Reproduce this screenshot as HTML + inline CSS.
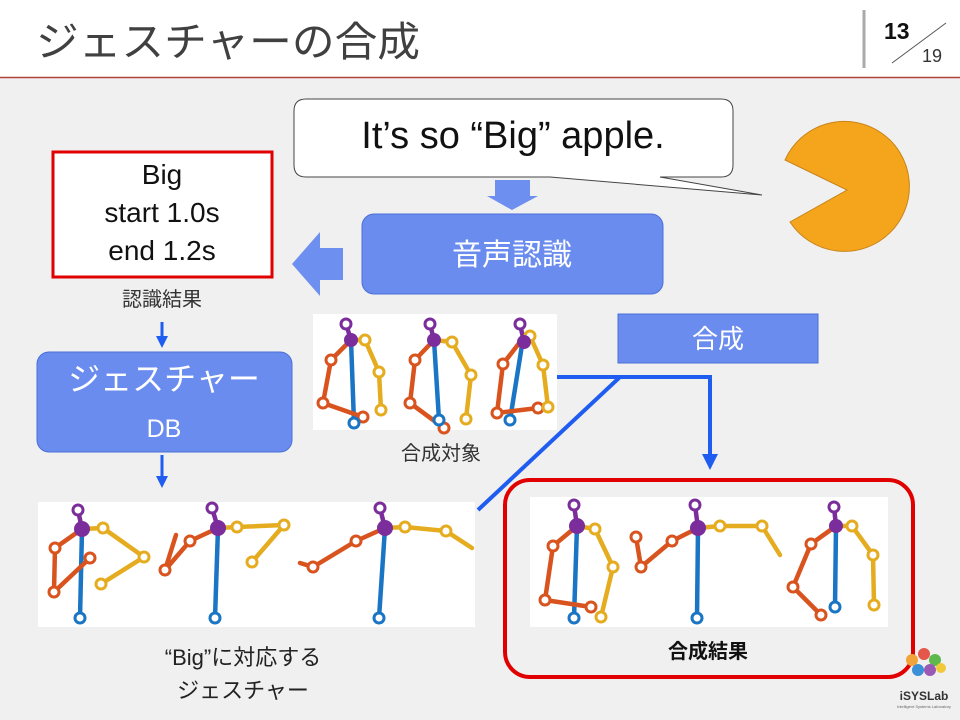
<!DOCTYPE html>
<html><head><meta charset="utf-8"><style>
html,body{margin:0;padding:0;width:960px;height:720px;overflow:hidden;background:#f0f0f0}
svg{display:block}
text{font-family:"Liberation Sans","Noto Sans CJK JP",sans-serif}
</style></head><body>
<svg width="960" height="720" viewBox="0 0 960 720" xmlns="http://www.w3.org/2000/svg">
<defs>
<marker id="ah" markerWidth="4" markerHeight="4" refX="2" refY="2" orient="auto" markerUnits="strokeWidth"><path d="M0,0 L4,2 L0,4 Z" fill="#1f5cf0"/></marker>
</defs>
<rect x="0" y="0" width="960" height="77" fill="#ffffff"/>
<line x1="0" y1="77.5" x2="960" y2="77.5" stroke="#b0433a" stroke-width="1.5"/>
<text x="36" y="56" font-size="41" fill="#404040" textLength="384" lengthAdjust="spacingAndGlyphs">ジェスチャーの合成</text>
<line x1="864" y1="10" x2="864" y2="68" stroke="#aaa" stroke-width="3"/>
<text x="884" y="39" font-size="23" font-weight="bold" fill="#111">13</text>
<line x1="892" y1="63" x2="946" y2="23" stroke="#555" stroke-width="1"/>
<text x="922" y="62" font-size="18" fill="#333" font-family="Liberation Serif,serif">19</text>

<path d="M306,99 H721 Q733,99 733,111 V165 Q733,177 721,177 H660 L762,195 L550,177 H306 Q294,177 294,165 V111 Q294,99 306,99 Z" fill="#fff" stroke="#444" stroke-width="1"/>
<text x="513" y="148" font-size="38" fill="#111" text-anchor="middle">It’s so “Big” apple.</text>

<path d="M847,190 L785,160 A65,65 0 1 1 790,222 Z" fill="#f5a51c" stroke="#c8841a" stroke-width="1"/>

<path d="M495,180 H530 V196 H538 L512,210 L487,196 H495 Z" fill="#6d8ff0"/>
<rect x="362" y="214" width="301" height="80" rx="12" fill="#6b8cef" stroke="#4a6fd8"/>
<text x="512" y="265" font-size="30" fill="#fff" text-anchor="middle">音声認識</text>
<path d="M343,248 V280 H320 V296 L292,264 L320,232 V248 Z" fill="#6d8ff0"/>

<rect x="53" y="152" width="219" height="125" fill="#fff" stroke="#e00000" stroke-width="3"/>
<text x="162" y="184" font-size="28" fill="#111" text-anchor="middle">Big</text>
<text x="162" y="222" font-size="28" fill="#111" text-anchor="middle">start 1.0s</text>
<text x="162" y="260" font-size="28" fill="#111" text-anchor="middle">end 1.2s</text>
<text x="162" y="306" font-size="20" fill="#333" text-anchor="middle">認識結果</text>
<line x1="162" y1="322" x2="162" y2="342" stroke="#1f5cf0" stroke-width="3" marker-end="url(#ah)"/>
<rect x="37" y="352" width="255" height="100" rx="12" fill="#6b8cef" stroke="#4a6fd8"/>
<text x="164" y="390" font-size="32" fill="#fff" text-anchor="middle">ジェスチャー</text>
<text x="164" y="437" font-size="25" fill="#fff" text-anchor="middle">DB</text>
<line x1="162" y1="455" x2="162" y2="482" stroke="#1f5cf0" stroke-width="3" marker-end="url(#ah)"/>

<rect x="313" y="314" width="244" height="116" fill="#fff"/>
<text x="441" y="460" font-size="20" fill="#333" text-anchor="middle">合成対象</text>
<rect x="618" y="314" width="200" height="49" fill="#6b8cef" stroke="#4a6fd8"/>
<text x="718" y="348" font-size="26" fill="#fff" text-anchor="middle">合成</text>
<rect x="38" y="502" width="437" height="125" fill="#fff"/>
<text x="243" y="665" font-size="22" fill="#222" text-anchor="middle">“Big”に対応する</text>
<text x="243" y="698" font-size="22" fill="#222" text-anchor="middle">ジェスチャー</text>

<polyline points="557,377 710,377 710,462" fill="none" stroke="#1f5cf0" stroke-width="4" marker-end="url(#ah)"/>
<line x1="620" y1="377" x2="478" y2="510" stroke="#1f5cf0" stroke-width="4"/>

<rect x="505" y="480" width="408" height="197" rx="25" fill="none" stroke="#e00000" stroke-width="4"/>
<rect x="530" y="497" width="358" height="130" fill="#fff"/>
<text x="708" y="658" font-size="20" font-weight="bold" fill="#111" text-anchor="middle">合成結果</text>

<g stroke-width="4.5" stroke-linecap="round" stroke-linejoin="round" fill="none">
<polyline points="351,340 354,423" stroke="#1a75c4"/>
<polyline points="351,340 331,360 323,403 363,417" stroke="#d9531e"/>
<polyline points="351,340 365,340 379,372 381,410" stroke="#e5ac20"/>
<polyline points="346,324 351,340" stroke="#7b2d9b"/>
<polyline points="434,340 439,420" stroke="#1a75c4"/>
<polyline points="434,340 415,360 410,403 444,428" stroke="#d9531e"/>
<polyline points="434,340 452,342 471,375 466,419" stroke="#e5ac20"/>
<polyline points="430,324 434,340" stroke="#7b2d9b"/>
<polyline points="522,345 510,420" stroke="#1a75c4"/>
<polyline points="520,342 503,364 497,413 538,408" stroke="#d9531e"/>
<polyline points="524,342 530,336 543,365 548,407" stroke="#e5ac20"/>
<polyline points="520,324 524,342" stroke="#7b2d9b"/>
<polyline points="82,529 80,618" stroke="#1a75c4"/>
<polyline points="82,529 55,548 54,592 90,558" stroke="#d9531e"/>
<polyline points="82,529 103,528 144,557 101,584" stroke="#e5ac20"/>
<polyline points="78,510 82,529" stroke="#7b2d9b"/>
<polyline points="218,528 215,618" stroke="#1a75c4"/>
<polyline points="218,528 190,541 165,570 176,535" stroke="#d9531e"/>
<polyline points="218,528 237,527 284,525 252,562" stroke="#e5ac20"/>
<polyline points="212,508 218,528" stroke="#7b2d9b"/>
<polyline points="385,528 379,618" stroke="#1a75c4"/>
<polyline points="385,528 356,541 313,567 300,563" stroke="#d9531e"/>
<polyline points="385,528 405,527 446,531 472,548" stroke="#e5ac20"/>
<polyline points="380,508 385,528" stroke="#7b2d9b"/>
<polyline points="577,526 574,618" stroke="#1a75c4"/>
<polyline points="577,526 553,546 545,600 591,607" stroke="#d9531e"/>
<polyline points="577,526 595,529 613,567 601,617" stroke="#e5ac20"/>
<polyline points="574,505 577,526" stroke="#7b2d9b"/>
<polyline points="698,528 697,618" stroke="#1a75c4"/>
<polyline points="698,528 672,541 641,567 636,537" stroke="#d9531e"/>
<polyline points="698,528 720,526 762,526 780,555" stroke="#e5ac20"/>
<polyline points="695,505 698,528" stroke="#7b2d9b"/>
<polyline points="836,526 835,607" stroke="#1a75c4"/>
<polyline points="836,526 811,544 793,587 821,615" stroke="#d9531e"/>
<polyline points="836,526 852,526 873,555 874,605" stroke="#e5ac20"/>
<polyline points="834,507 836,526" stroke="#7b2d9b"/>
</g>
<g stroke-width="3">
<g fill="#fff" stroke="#d9531e">
<circle cx="331" cy="360" r="5"/><circle cx="323" cy="403" r="5"/><circle cx="363" cy="417" r="5"/>
<circle cx="415" cy="360" r="5"/><circle cx="410" cy="403" r="5"/><circle cx="444" cy="428" r="5"/>
<circle cx="503" cy="364" r="5"/><circle cx="497" cy="413" r="5"/><circle cx="538" cy="408" r="5"/>
<circle cx="55" cy="548" r="5"/><circle cx="54" cy="592" r="5"/><circle cx="90" cy="558" r="5"/>
<circle cx="190" cy="541" r="5"/><circle cx="165" cy="570" r="5"/>
<circle cx="356" cy="541" r="5"/><circle cx="313" cy="567" r="5"/>
<circle cx="553" cy="546" r="5"/><circle cx="545" cy="600" r="5"/><circle cx="591" cy="607" r="5"/>
<circle cx="672" cy="541" r="5"/><circle cx="641" cy="567" r="5"/><circle cx="636" cy="537" r="5"/>
<circle cx="811" cy="544" r="5"/><circle cx="793" cy="587" r="5"/><circle cx="821" cy="615" r="5"/>
</g>
<g fill="#fff" stroke="#e5ac20">
<circle cx="365" cy="340" r="5"/><circle cx="379" cy="372" r="5"/><circle cx="381" cy="410" r="5"/>
<circle cx="452" cy="342" r="5"/><circle cx="471" cy="375" r="5"/><circle cx="466" cy="419" r="5"/>
<circle cx="530" cy="336" r="5"/><circle cx="543" cy="365" r="5"/><circle cx="548" cy="407" r="5"/>
<circle cx="103" cy="528" r="5"/><circle cx="144" cy="557" r="5"/><circle cx="101" cy="584" r="5"/>
<circle cx="237" cy="527" r="5"/><circle cx="284" cy="525" r="5"/><circle cx="252" cy="562" r="5"/>
<circle cx="405" cy="527" r="5"/><circle cx="446" cy="531" r="5"/>
<circle cx="595" cy="529" r="5"/><circle cx="613" cy="567" r="5"/><circle cx="601" cy="617" r="5"/>
<circle cx="720" cy="526" r="5"/><circle cx="762" cy="526" r="5"/>
<circle cx="852" cy="526" r="5"/><circle cx="873" cy="555" r="5"/><circle cx="874" cy="605" r="5"/>
</g>
<g fill="#fff" stroke="#1a75c4">
<circle cx="354" cy="423" r="5"/><circle cx="439" cy="420" r="5"/><circle cx="510" cy="420" r="5"/>
<circle cx="80" cy="618" r="5"/><circle cx="215" cy="618" r="5"/><circle cx="379" cy="618" r="5"/>
<circle cx="574" cy="618" r="5"/><circle cx="697" cy="618" r="5"/><circle cx="835" cy="607" r="5"/>
</g>
<g fill="#fff" stroke="#7b2d9b">
<circle cx="346" cy="324" r="5"/><circle cx="430" cy="324" r="5"/><circle cx="520" cy="324" r="5"/>
<circle cx="78" cy="510" r="5"/><circle cx="212" cy="508" r="5"/><circle cx="380" cy="508" r="5"/>
<circle cx="574" cy="505" r="5"/><circle cx="695" cy="505" r="5"/><circle cx="834" cy="507" r="5"/>
</g>
<g fill="#7b2d9b" stroke="none">
<circle cx="351" cy="340" r="7"/><circle cx="434" cy="340" r="7"/><circle cx="524" cy="342" r="7"/>
<circle cx="82" cy="529" r="8"/><circle cx="218" cy="528" r="8"/><circle cx="385" cy="528" r="8"/>
<circle cx="577" cy="526" r="8"/><circle cx="698" cy="528" r="8"/><circle cx="836" cy="526" r="7"/>
</g>
</g>

<g>
<circle cx="912" cy="660" r="6" fill="#f2a33a"/><circle cx="924" cy="654" r="6" fill="#e5564b"/>
<circle cx="935" cy="660" r="6" fill="#5fb84e"/><circle cx="918" cy="670" r="6" fill="#3b8fd6"/>
<circle cx="930" cy="670" r="6" fill="#9b59b6"/><circle cx="941" cy="668" r="5" fill="#f0c93a"/>
<text x="924" y="700" font-size="12" font-weight="bold" fill="#333" text-anchor="middle">iSYSLab</text>
<text x="924" y="708" font-size="4" fill="#666" text-anchor="middle">Intelligent Systems Laboratory</text>
</g>
</svg>
</body></html>
